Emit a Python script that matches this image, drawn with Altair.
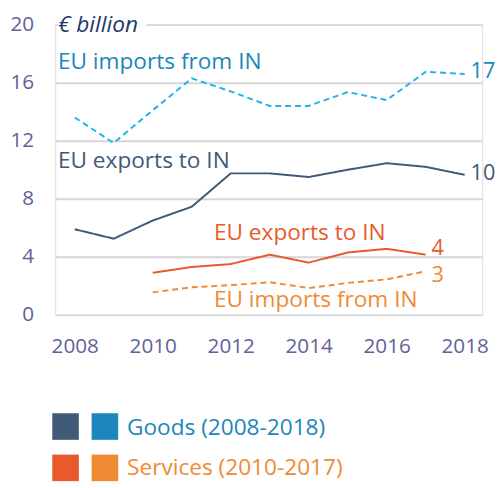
import altair as alt
import pandas as pd

# ---- data ----
years_goods = [2008, 2009, 2010, 2011, 2012, 2013, 2014, 2015, 2016, 2017, 2018]
goods_exports = [5.9, 5.25, 6.5, 7.45, 9.75, 9.75, 9.5, 10.0, 10.45, 10.2, 9.65]
goods_imports = [13.6, 11.85, 14.1, 16.3, 15.4, 14.4, 14.4, 15.35, 14.8, 16.75, 16.6]

years_services = [2010, 2011, 2012, 2013, 2014, 2015, 2016, 2017]
services_exports = [2.9, 3.3, 3.5, 4.15, 3.6, 4.3, 4.55, 4.15]
services_imports = [1.55, 1.9, 2.05, 2.25, 1.85, 2.2, 2.45, 3.0]

series_names = ["Goods exports", "Goods imports", "Services exports", "Services imports"]
series_colors = ["#3f5a78", "#1db4ea", "#e85a2c", "#f08a35"]
series_dash = [[1, 0], [6, 4], [1, 0], [6, 4]]

label_texts = ["EU imports from IN", "EU exports to IN", "EU exports to IN", "EU imports from IN"]
label_x = [2007.57, 2007.57, 2011.57, 2011.57]
label_y = [17.4, 10.6, 5.65, 1.0]
label_colors = ["#1b87bb", "#3f5a78", "#e85a2c", "#f08a35"]

end_texts = ["17", "10", "4", "3"]
end_x = [2018, 2018, 2017, 2017]
end_y = [16.8, 9.75, 4.6, 2.75]
end_colors = ["#1b87bb", "#3f5a78", "#e85a2c", "#f08a35"]

rows = []
for y, v in zip(years_goods, goods_exports):
    rows.append({"year": y, "value": v, "series": "Goods exports"})
for y, v in zip(years_goods, goods_imports):
    rows.append({"year": y, "value": v, "series": "Goods imports"})
for y, v in zip(years_services, services_exports):
    rows.append({"year": y, "value": v, "series": "Services exports"})
for y, v in zip(years_services, services_imports):
    rows.append({"year": y, "value": v, "series": "Services imports"})
df = pd.DataFrame(rows)

labels_df = pd.DataFrame({"x": label_x, "y": label_y, "t": label_texts, "c": label_colors})
ends_df = pd.DataFrame({"x": end_x, "y": end_y, "t": end_texts, "c": end_colors})

FONT = "Open Sans"
W, H = 434, 295

xscale = alt.Scale(domain=[2007.5, 2018.45], nice=False, zero=False)
yscale = alt.Scale(domain=[0, 20], nice=False)

lines = alt.Chart(df).mark_line(strokeWidth=2).encode(
    x=alt.X("year:Q", scale=xscale,
            axis=alt.Axis(values=[2008, 2010, 2012, 2014, 2016, 2018], format="d",
                          grid=False, domain=False, ticks=False, labelPadding=21,
                          labelFontSize=21, labelColor="#62629a", labelFont=FONT,
                          title=None)),
    y=alt.Y("value:Q", scale=yscale,
            axis=alt.Axis(values=[0, 4, 8, 12, 16, 20], grid=True, gridColor="#d6d6d6",
                          gridWidth=2, domain=False, ticks=False, labelPadding=22,
                          labelFontSize=21, labelColor="#62629a", labelFont=FONT,
                          title=None)),
    color=alt.Color("series:N", scale=alt.Scale(domain=series_names, range=series_colors), legend=None),
    strokeDash=alt.StrokeDash("series:N", scale=alt.Scale(domain=series_names, range=series_dash), legend=None),
)

# unit label with white background masking the top gridline
unit_bg = alt.Chart(pd.DataFrame({"x": [2007.57], "x2": [2009.84], "y": [19.2], "y2": [20.8]})).mark_rect(
    color="white").encode(x="x:Q", x2="x2:Q", y="y:Q", y2="y2:Q")
unit = alt.Chart(pd.DataFrame({"x": [2007.57], "y": [19.95], "t": ["€ billion"]})).mark_text(
    align="left", baseline="middle", font=FONT, fontSize=23, fontStyle="italic",
    color="#1d3b6a").encode(x="x:Q", y="y:Q", text="t:N")

labels = alt.Chart(labels_df).mark_text(
    align="left", baseline="middle", font=FONT, fontSize=23).encode(
    x="x:Q", y="y:Q", text="t:N", color=alt.Color("c:N", scale=None))

ends = alt.Chart(ends_df).mark_text(
    align="left", baseline="middle", font=FONT, fontSize=22, dx=6).encode(
    x="x:Q", y="y:Q", text="t:N", color=alt.Color("c:N", scale=None))

# custom legend
one = pd.DataFrame({"a": [0]})
def sq(x0, y0, color):
    return alt.Chart(one).mark_rect(color=color).encode(
        x=alt.value(x0), x2=alt.value(x0 + 27), y=alt.value(y0), y2=alt.value(y0 + 27))

def txt(x0, y0, s, color):
    return alt.Chart(one).mark_text(align="left", baseline="middle", font=FONT,
                                    fontSize=23, color=color, text=s).encode(
        x=alt.value(x0), y=alt.value(y0))

legend = (sq(-3, 395, "#415a78") + sq(37, 395, "#1b87bb") + txt(73, 410, "Goods (2008-2018)", "#1b87bb")
          + sq(-3, 437, "#e85a2c") + sq(37, 437, "#f08a35") + txt(73, 451, "Services (2010-2017)", "#f08a35"))

chart = alt.layer(lines, unit_bg, unit, labels, ends, legend).properties(
    width=W, height=H,
    autosize=alt.AutoSizeParams(type="none"),
    padding={"left": 48, "top": 13, "right": 14, "bottom": 168},
).configure_view(stroke=None).configure(background="white")

chart.save("out.html", embed_options={"renderer": "svg", "actions": False})
